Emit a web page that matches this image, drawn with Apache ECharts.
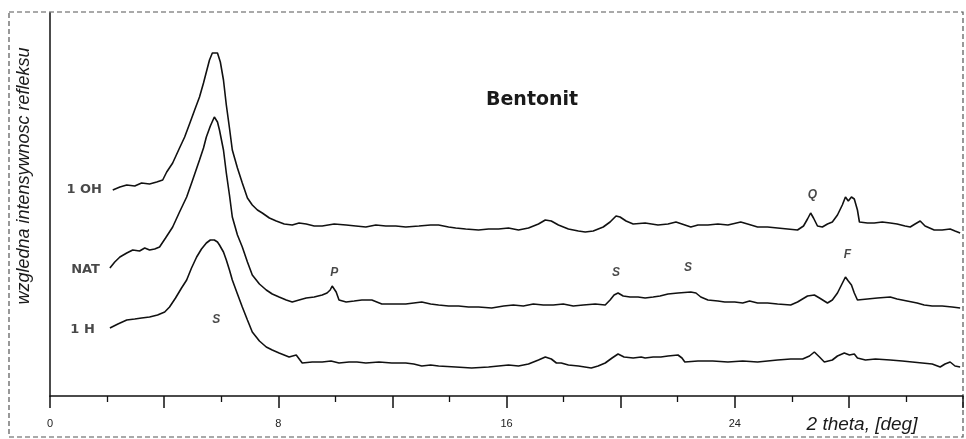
<!DOCTYPE html>
<html>
<head>
<meta charset="utf-8">
<script src="https://cdn.jsdelivr.net/npm/echarts@6/dist/echarts.min.js"></script>
<style>html,body{margin:0;padding:0;background:#fff}#c{width:966px;height:439px}</style>
</head>
<body>
<div id="c"></div>
<script>
// ---- data (2 theta in degrees, relative intensity in arbitrary units) ----
const thetaOH = [2.20,2.45,2.69,2.97,3.21,3.49,3.74,3.95,4.09,4.30,4.54,4.72,4.89,5.07,5.24,5.38,5.48,5.59,5.69,5.87,5.97,6.08,6.18,6.29,6.39,6.57,6.74,6.92,7.09,7.27,7.44,7.69,7.93,8.21,8.49,8.73,8.98,9.26,9.54,9.96,10.38,10.72,11.07,11.42,11.77,12.12,12.47,12.93,13.34,13.62,13.97,14.22,14.57,15.02,15.37,15.72,16.07,16.42,16.77,17.12,17.36,17.57,17.82,18.17,18.52,18.76,19.04,19.39,19.63,19.84,19.98,20.19,20.44,20.86,21.31,21.66,21.94,22.15,22.46,22.71,23.06,23.41,23.76,24.21,24.45,24.80,25.15,25.50,25.85,26.20,26.41,26.55,26.66,26.76,26.90,27.07,27.25,27.42,27.60,27.77,27.88,27.98,28.09,28.19,28.30,28.37,28.65,28.89,29.17,29.45,29.69,29.97,30.15,30.32,30.50,30.67,30.99,31.27,31.55,31.72,31.90];
const intOH = [206,209,211,210,213,212,214,216,224,233,248,259,272,286,299,313,324,336,343,343,334,316,291,268,246,228,213,198,191,186,183,178,175,172,171,173,172,170,170,172,171,170,169,171,170,170,169,170,171,171,169,168,167,166,167,167,168,166,168,172,176,175,171,167,165,164,165,169,174,180,179,175,172,173,171,172,174,172,169,171,171,172,171,174,172,169,169,168,167,166,170,177,183,178,170,169,172,174,181,191,199,195,199,197,186,174,173,173,174,173,172,170,169,172,175,170,166,166,167,165,163];

const thetaNAT = [2.10,2.27,2.45,2.69,2.90,3.14,3.32,3.49,3.67,3.84,4.05,4.30,4.54,4.79,5.00,5.24,5.38,5.48,5.62,5.76,5.87,5.94,6.08,6.18,6.29,6.39,6.57,6.74,6.92,7.09,7.34,7.58,7.79,8.03,8.28,8.49,8.73,8.98,9.26,9.54,9.71,9.82,9.89,9.96,10.03,10.13,10.38,10.66,10.93,11.28,11.63,12.05,12.47,12.75,13.03,13.34,13.62,13.97,14.32,14.67,15.02,15.48,15.90,16.24,16.59,16.94,17.29,17.64,17.99,18.34,18.69,19.11,19.46,19.63,19.77,19.91,20.09,20.33,20.61,20.86,21.14,21.38,21.66,22.01,22.46,22.64,22.81,23.06,23.41,23.65,24.00,24.28,24.52,24.80,25.15,25.50,25.96,26.20,26.55,26.79,26.97,27.25,27.42,27.60,27.74,27.88,27.98,28.09,28.19,28.30,28.65,29.00,29.45,29.69,30.04,30.39,30.64,30.92,31.27,31.62,31.90];
const intNAT = [128,134,139,143,146,145,148,146,147,149,158,169,184,199,216,236,248,259,270,279,274,266,246,223,201,179,161,149,134,121,112,106,102,99,96,94,96,98,99,101,103,106,110,108,104,96,94,95,96,96,92,92,92,93,94,92,91,90,90,89,89,88,90,91,90,92,91,91,92,90,91,92,91,96,101,103,100,99,99,98,99,100,102,103,104,103,99,96,95,94,94,93,95,93,93,92,91,94,100,101,98,93,96,103,111,119,115,111,103,96,97,98,99,97,95,93,91,90,90,89,88];

const thetaH = [2.10,2.38,2.69,2.97,3.21,3.49,3.77,4.02,4.19,4.40,4.61,4.79,4.96,5.14,5.31,5.48,5.62,5.76,5.87,5.94,6.08,6.18,6.29,6.39,6.57,6.74,6.92,7.09,7.34,7.58,7.79,8.03,8.38,8.63,8.84,9.19,9.54,9.85,10.13,10.48,10.76,11.07,11.53,11.98,12.47,12.75,13.03,13.34,13.62,14.22,14.78,15.37,15.72,16.07,16.42,16.77,17.12,17.36,17.57,17.75,17.92,18.17,18.52,18.97,19.21,19.46,19.70,19.91,20.12,20.44,20.72,20.86,21.14,21.41,21.66,22.01,22.15,22.25,22.71,23.23,23.76,24.28,24.80,25.15,25.50,25.96,26.38,26.62,26.79,26.97,27.14,27.42,27.60,27.84,28.02,28.19,28.30,28.58,28.93,29.45,29.87,30.22,30.57,30.92,31.20,31.37,31.55,31.72,31.90];
const intH = [68,72,76,77,78,79,81,84,89,98,108,116,128,139,147,153,156,156,154,151,144,136,126,116,102,89,76,64,55,49,46,43,39,41,33,34,34,35,33,34,34,33,34,33,33,32,30,31,30,29,28,29,30,31,30,32,36,39,37,33,33,31,30,28,30,33,38,42,39,38,39,38,39,39,40,41,38,34,35,35,34,35,34,35,36,37,37,40,44,39,34,36,40,43,41,42,38,36,37,36,35,34,33,32,29,32,34,30,29];

const seriesNames = ['1 OH', 'NAT', '1 H'];
const nameX = [1.82, 1.75, 1.57];
const nameY = [206, 126, 66];

const annText = ['S', 'P', 'S', 'S', 'Q', 'F'];
const annX = [5.83, 9.96, 19.84, 22.36, 26.72, 27.95];
const annY = [76, 123, 123, 128, 201, 141];

const xTickLabels = [0, 8, 16, 24];

// ---- chart ----
const chart = echarts.init(document.getElementById('c'), null, {renderer: 'canvas'});
const pairs = (xs, ys) => xs.map((x, i) => [x, ys[i]]);
const lineStyle = {color: '#111', width: 1.6};

chart.setOption({
  animation: false,
  backgroundColor: '#fff',
  grid: {left: 50, right: 0, top: 13, bottom: 43},
  xAxis: {
    type: 'value', min: 0, max: 32, interval: 4,
    axisLine: {show: true, onZero: false, lineStyle: {color: '#111', width: 1.5}},
    axisTick: {show: true, length: 12, lineStyle: {color: '#111', width: 1.5}},
    minorTick: {show: true, splitNumber: 2, length: 6, lineStyle: {color: '#111', width: 1.3}},
    splitLine: {show: false},
    minorSplitLine: {show: false},
    axisLabel: {
      margin: 22, fontSize: 11, color: '#222', fontFamily: 'Liberation Sans',
      formatter: v => xTickLabels.indexOf(v) >= 0 ? String(v) : ''
    }
  },
  yAxis: {
    type: 'value', min: 0, max: 383,
    axisLine: {show: true, lineStyle: {color: '#111', width: 1.5}},
    axisTick: {show: false}, axisLabel: {show: false}, splitLine: {show: false}
  },
  graphic: [
    {type: 'rect', shape: {x: 9, y: 12, width: 954, height: 425}, silent: true,
     style: {fill: 'none', stroke: '#555', lineWidth: 1.2, lineDash: [5, 3]}, z: -1},
    {type: 'text', left: 486, top: 91,
     style: {text: 'Bentonit', font: 'bold 19px "DejaVu Sans"', fill: '#1a1a1a'}},
    {type: 'text', x: 862, y: 425,
     style: {text: '2 theta, [deg]', font: 'italic 19px "Liberation Sans"', fill: '#1a1a1a', align: 'center', verticalAlign: 'middle'}},
    {type: 'text', x: 24, y: 176, rotation: Math.PI / 2,
     style: {text: 'wzgledna intensywnosc refleksu', font: 'italic 18px "Liberation Sans"', fill: '#1a1a1a', align: 'center', verticalAlign: 'middle'}}
  ],
  series: [
    {type: 'line', name: seriesNames[0], data: pairs(thetaOH, intOH), showSymbol: false, lineStyle, silent: true},
    {type: 'line', name: seriesNames[1], data: pairs(thetaNAT, intNAT), showSymbol: false, lineStyle, silent: true},
    {type: 'line', name: seriesNames[2], data: pairs(thetaH, intH), showSymbol: false, lineStyle, silent: true},
    {type: 'scatter', symbolSize: 0, silent: true,
     data: seriesNames.map((n, i) => ({name: n, value: [nameX[i], nameY[i]]})),
     label: {show: true, position: 'left', distance: 0, formatter: p => p.name,
             fontFamily: 'DejaVu Sans', fontWeight: 'bold', fontSize: 13, color: '#1a1a1a'}},
    {type: 'scatter', symbolSize: 0, silent: true,
     data: annText.map((t, i) => ({name: t, value: [annX[i], annY[i]]})),
     label: {show: true, position: 'inside', formatter: p => p.name,
             fontFamily: 'Liberation Sans', fontStyle: 'italic', fontWeight: 'bold', fontSize: 12, color: '#1a1a1a'}}
  ]
});
</script>
</body>
</html>
